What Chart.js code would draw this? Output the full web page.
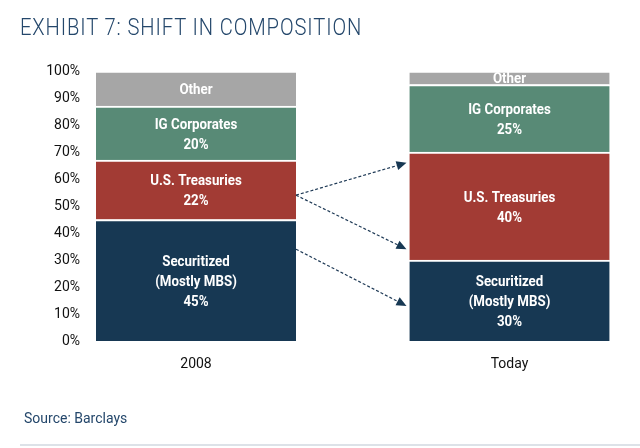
<!DOCTYPE html>
<html>
<head>
<meta charset="utf-8">
<script src="https://cdn.jsdelivr.net/npm/chart.js@4.4.1/dist/chart.umd.min.js"></script>
<style>
  body { margin: 0; background: #fff; }
  #wrap { position: relative; width: 640px; height: 448px; overflow: hidden; }
  #title { position: absolute; left: 20px; top: 14px; font: 300 23px Roboto, sans-serif; letter-spacing: 1px; color: #24476b; white-space: nowrap; transform: scaleX(0.877); transform-origin: left top; }
  #source { position: absolute; left: 24px; top: 410px; font: 400 14px Roboto, sans-serif; color: #24476b; }
  #rule { position: absolute; left: 20px; right: 0; top: 444px; height: 2px; background: #dde2e8; }
  #chart { position: absolute; left: 0; top: 0; }
</style>
</head>
<body>
<div id="wrap">
  <canvas id="chart" width="640" height="448"></canvas>
  <div id="title">EXHIBIT 7: SHIFT IN COMPOSITION</div>
  <div id="source">Source: Barclays</div>
  <div id="rule"></div>
</div>
<script>
  const categories = ['2008', 'Today'];
  const seriesNames = ['Securitized', 'U.S. Treasuries', 'IG Corporates', 'Other'];
  const seriesLines = [['Securitized', '(Mostly MBS)'], ['U.S. Treasuries'], ['IG Corporates'], ['Other']];
  const showValue = [true, true, true, false];
  const securitized = [45, 30];
  const treasuries = [22, 40];
  const igCorporates = [20, 25];
  const other = [13, 5];
  const colors = ['#173853', '#a23b34', '#588a76', '#a6a6a6'];

  // dashed arrows: level (in %) on the 2008 bar -> level on the Today bar
  const arrowFrom = [54, 54, 34];
  const arrowTo = [66, 34, 13];

  const seriesValues = [securitized, treasuries, igCorporates, other];

  const datasets = seriesValues.map((vals, i) => ({
    label: seriesNames[i],
    data: vals,
    backgroundColor: colors[i],
    borderColor: '#ffffff',
    borderWidth: { top: 2, left: 0, right: 0, bottom: 0 },
    borderSkipped: false,
    barThickness: 200,
    clip: false
  }));

  // white labels inside each segment
  const segmentLabels = {
    id: 'segmentLabels',
    afterDatasetsDraw(chart) {
      const ctx = chart.ctx;
      ctx.save();
      ctx.fillStyle = '#ffffff';
      ctx.font = 'bold 14px Roboto, sans-serif';
      ctx.textAlign = 'center';
      ctx.textBaseline = 'middle';
      chart.data.datasets.forEach((ds, i) => {
        chart.getDatasetMeta(i).data.forEach((bar, j) => {
          const lines = seriesLines[i].slice();
          if (showValue[i]) lines.push(seriesValues[i][j] + '%');
          const cy = (bar.y + bar.base) / 2 + 2;
          const lh = 20;
          const y0 = cy - (lines.length - 1) * lh / 2;
          lines.forEach((t, k) => {
            ctx.save();
            ctx.translate(bar.x, y0 + k * lh);
            ctx.scale(0.95, 1);
            ctx.fillText(t, 0, 0);
            ctx.restore();
          });
        });
      });
      ctx.restore();
    }
  };

  const shiftArrows = {
    id: 'shiftArrows',
    afterDatasetsDraw(chart) {
      const ctx = chart.ctx;
      const y = chart.scales.y;
      const meta = chart.getDatasetMeta(0);
      const b0 = meta.data[0], b1 = meta.data[1];
      const x0 = b0.x + b0.width / 2;
      const x1 = b1.x - b1.width / 2 - 3;
      ctx.save();
      ctx.strokeStyle = '#1f3a56';
      ctx.fillStyle = '#173853';
      ctx.lineWidth = 1.2;
      arrowFrom.forEach((f, i) => {
        const ya = y.getPixelForValue(f);
        const yb = y.getPixelForValue(arrowTo[i]);
        const ang = Math.atan2(yb - ya, x1 - x0);
        const len = 10, half = 4.5;
        const bx = x1 - len * Math.cos(ang), by = yb - len * Math.sin(ang);
        ctx.setLineDash([3, 2]);
        ctx.beginPath();
        ctx.moveTo(x0, ya);
        ctx.lineTo(bx, by);
        ctx.stroke();
        ctx.setLineDash([]);
        ctx.beginPath();
        ctx.moveTo(x1, yb);
        ctx.lineTo(bx - half * Math.sin(ang), by + half * Math.cos(ang));
        ctx.lineTo(bx + half * Math.sin(ang), by - half * Math.cos(ang));
        ctx.closePath();
        ctx.fill();
      });
      ctx.restore();
    }
  };

  new Chart(document.getElementById('chart'), {
    type: 'bar',
    data: { labels: categories, datasets: datasets },
    options: {
      responsive: false,
      animation: false,
      layout: { padding: { top: 71, right: 130.5, bottom: 75, left: 0 } },
      plugins: { legend: { display: false }, tooltip: { enabled: false } },
      scales: {
        x: {
          stacked: true,
          offset: false,
          grid: { display: false, drawTicks: false, offset: false },
          border: { display: false },
          afterFit: (scale) => { scale.height = 32; },
          ticks: {
            padding: 15,
            maxRotation: 0,
            color: '#111',
            font: { family: 'Roboto, sans-serif', size: 14 }
          }
        },
        y: {
          stacked: true,
          min: 0,
          max: 100,
          grid: { display: false, drawTicks: false },
          border: { display: false },
          afterFit: (scale) => {
            scale.width = 196;
            scale.paddingTop = 8;
            scale.paddingBottom = 8;
          },
          ticks: {
            stepSize: 10,
            padding: 116,
            color: '#111',
            font: { family: 'Roboto, sans-serif', size: 14 },
            callback: (v) => v + '%'
          }
        }
      }
    },
    plugins: [segmentLabels, shiftArrows]
  });
</script>
</body>
</html>
